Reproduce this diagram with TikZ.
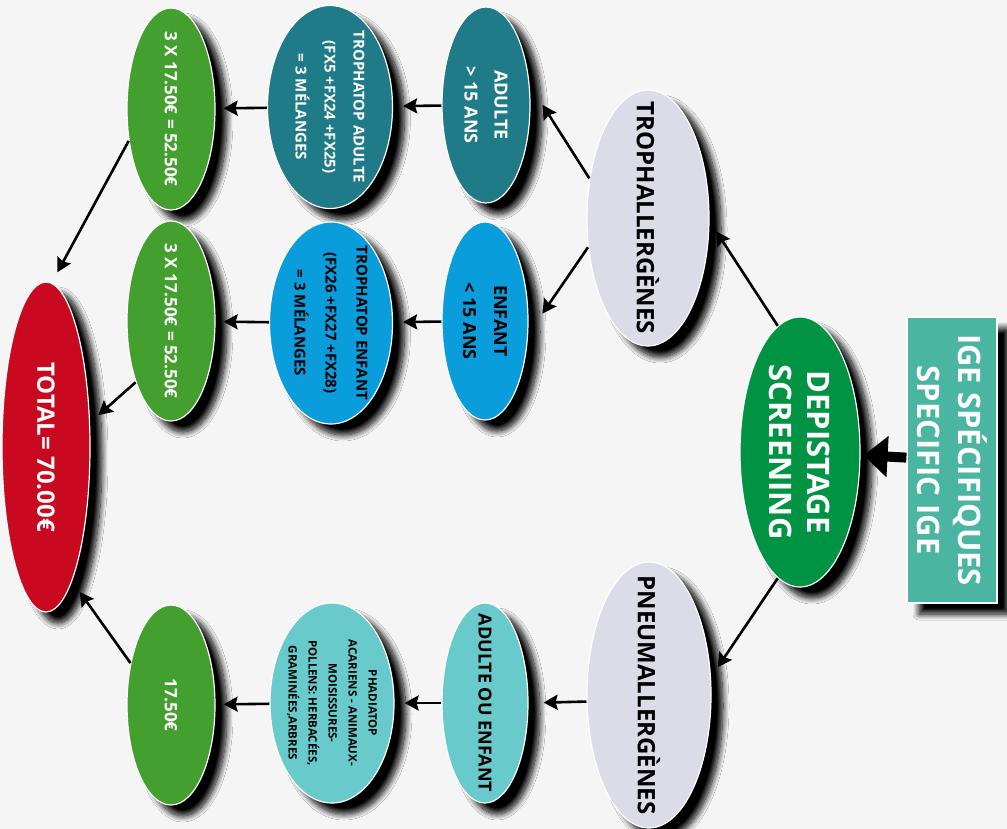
\documentclass[tikz,border=0pt]{standalone}
\usepackage{fontspec}
\setmainfont{Open Sans}
\usetikzlibrary{shapes.geometric, arrows.meta, shadows.blur}
\definecolor{totalred}{HTML}{C8091F}
\definecolor{sumgreen}{HTML}{43A02F}
\definecolor{adultteal}{HTML}{1E7B87}
\definecolor{childblue}{HTML}{0A9DDC}
\definecolor{lightteal}{HTML}{68CACA}
\definecolor{lavender}{HTML}{DCDCE8}
\definecolor{screengreen}{HTML}{009344}
\definecolor{igeteal}{HTML}{4AB5A0}
\tikzset{
  darkshadow/.style={blur shadow={shadow xshift=12pt, shadow yshift=-11pt,
      shadow blur radius=6pt, shadow blur steps=12, shadow opacity=100}},
  bubble/.style={ellipse, draw=white, line width=1.2pt, inner sep=0pt, darkshadow},
  oval/.style 2 args={minimum width=#1, minimum height=#2},
  txt/.style 2 args={rotate=-90, align=center, inner sep=0pt,
    font=\fontsize{#1}{#2}\selectfont\bfseries},
  link/.style={-{Stealth[length=14pt,width=15pt,inset=2pt]}, line width=2.6pt},
}

\begin{document}
\begin{tikzpicture}[x=1pt, y=-1pt]
    \fill[black!4] (0,0) rectangle (1007,829);
    \useasboundingbox (0,0) rectangle (1007,829);

    \node[bubble, oval={88pt}{330pt}, fill=totalred,
      label={[txt={24pt}{29pt}, white]center:{TOTAL= 70.00€}}] (total) at (46,447) {};
    \node[bubble, oval={88pt}{202pt}, fill=sumgreen,
      label={[txt={17pt}{22pt}, white]center:{3 X 17.50€ = 52.50€}}] (sumA) at (171,109) {};
    \node[bubble, oval={88pt}{200pt}, fill=sumgreen,
      label={[txt={17pt}{22pt}, white]center:{3 X 17.50€ = 52.50€}}] (sumB) at (171,321) {};
    \node[bubble, oval={88pt}{200pt}, fill=sumgreen,
      label={[txt={17pt}{22pt}, white]center:{17.50€}}] (sumC) at (171,705) {};

    \node[bubble, oval={125pt}{203pt}, fill=adultteal,
      label={[txt={15pt}{29pt}, white]center:{TROPHATOP ADULTE\\(FX5 +FX24 +FX25)\\= 3 MÉLANGES}}] (tropA) at (330,107) {};
    \node[bubble, oval={123pt}{202pt}, fill=childblue,
      label={[txt={15pt}{31pt}, black]center:{TROPHATOP ENFANT\\(FX26 +FX27 +FX28)\\= 3 MÉLANGES}}] (tropE) at (331,323) {};
    \node[bubble, oval={124pt}{200pt}, fill=lightteal,
      label={[txt={11.5pt}{20pt}, black]center:{PHADIATOP\\ACARIENS - ANIMAUX-\\MOISISSURES-\\POLLENS: HERBACÉES,\\GRAMINÉES,ARBRES}}] (phadia) at (332,703) {};

    \node[bubble, oval={88pt}{196pt}, fill=adultteal,
      label={[txt={18pt}{30pt}, white]center:{ADULTE\\> 15 ANS}}] (adulte) at (486,105) {};
    \node[bubble, oval={86pt}{198pt}, fill=childblue,
      label={[txt={18pt}{31pt}, black]center:{ENFANT\\< 15 ANS}}] (enfant) at (485,321) {};
    \node[bubble, oval={86pt}{200pt}, fill=lightteal,
      label={[txt={18pt}{22pt}, black]center:{ADULTE OU ENFANT}}] (aoe) at (485,703) {};

    \node[bubble, oval={122pt}{256pt}, fill=lavender,
      label={[txt={24pt}{28pt}, black]center:{TROPHALLERGÈNES}}] (troph) at (648,218) {};
    \node[bubble, oval={124pt}{266pt}, fill=lavender,
      label={[txt={24pt}{28pt}, black]center:{PNEUMALLERGÈNES}}] (pneum) at (649,695) {};

    \node[bubble, oval={120pt}{270pt}, fill=screengreen,
      label={[txt={31pt}{38pt}, white]center:{DEPISTAGE\\SCREENING}}] (depist) at (800,452) {};
    \node[rectangle, draw=white, line width=1.2pt, fill=igeteal,
      minimum width=90pt, minimum height=286pt, darkshadow,
      label={[txt={31pt}{41pt}, white]center:{IGE SPÉCIFIQUES\\SPECIFIC IGE}}] (ige) at (952,460) {};

    \draw[-{Triangle[length=24pt,width=40pt]}, line width=10pt, shorten >=3pt] (ige) -- (depist);
    \draw[link, shorten >=12pt] (depist.100) -- (troph.-3);
    \draw[link, shorten >=12pt] (depist.260) -- (pneum.16);
    \draw[link, shorten >=24pt] (troph.146) -- (adulte.25);
    \draw[link, shorten >=25pt] (troph.206) -- (enfant.-17);
    \draw[link, shorten >=15pt] (pneum.186) -- (aoe.east);
    \draw[link, shorten >=10pt] (adulte) -- (tropA);
    \draw[link, shorten >=10pt] (enfant) -- (tropE);
    \draw[link, shorten >=10pt] (aoe) -- (phadia);
    \draw[link, shorten >=8pt] (tropA) -- (sumA);
    \draw[link, shorten >=8pt] (tropE) -- (sumB);
    \draw[link, shorten >=8pt] (phadia) -- (sumC);
    \draw[link, shorten >=12pt] (sumA.217) -- (total.88);
    \draw[link, shorten >=11pt] (sumB.240) -- (total.29);
    \draw[link, shorten >=13pt] (sumC.134) -- (total.-79);
\end{tikzpicture}
\end{document}
